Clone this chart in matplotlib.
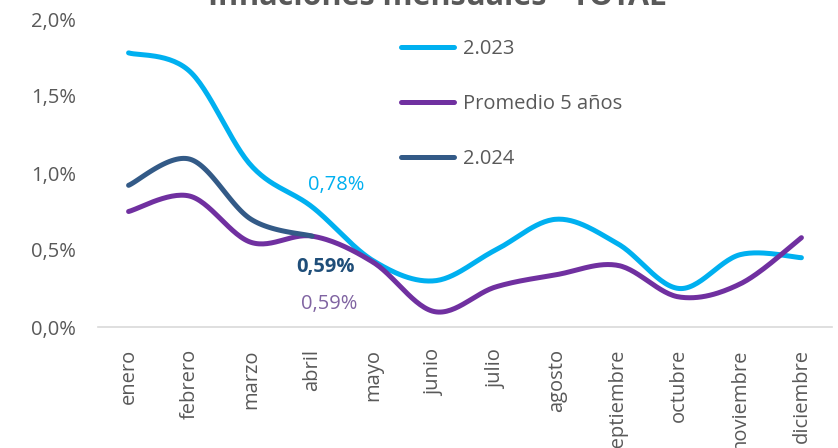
import numpy as np
import matplotlib
matplotlib.use("Agg")
import matplotlib.pyplot as plt

months = ["enero", "febrero", "marzo", "abril", "mayo", "junio", "julio",
          "agosto", "septiembre", "octubre", "noviembre", "diciembre"]
infl_2023 = [1.78, 1.66, 1.05, 0.78, 0.43, 0.30, 0.50, 0.70, 0.54, 0.25, 0.47, 0.45]
prom_5 = [0.75, 0.85, 0.55, 0.59, 0.42, 0.10, 0.26, 0.34, 0.40, 0.195, 0.28, 0.58]
infl_2024 = [0.92, 1.09, 0.70, 0.59]
yticks = [0.0, 0.5, 1.0, 1.5, 2.0]
ytick_labels = ["0,0%", "0,5%", "1,0%", "1,5%", "2,0%"]
series_labels = ["2.023", "Promedio 5 años", "2.024"]
title = "Inflaciones mensuales - TOTAL"

C23 = "#00B0F0"
CPR = "#7030A0"
C24 = "#335A87"
GRAY = "#595959"

plt.rcParams["font.family"] = ["Open Sans", "DejaVu Sans"]


def smooth(xs, ys, n=30):
    """Catmull-Rom style Bezier smoothing (as used by spreadsheet 'smoothed line')."""
    xs = np.asarray(xs, float)
    ys = np.asarray(ys, float)
    P = np.column_stack([xs, ys])
    m = len(P)
    out = []
    for i in range(m - 1):
        p0 = P[i - 1] if i > 0 else P[i]
        p1 = P[i]
        p2 = P[i + 1]
        p3 = P[i + 2] if i + 2 < m else P[i + 1]
        c1 = p1 + (p2 - p0) / 6.0
        c2 = p2 - (p3 - p1) / 6.0
        t = np.linspace(0, 1, n, endpoint=(i == m - 2))[:, None]
        seg = ((1 - t) ** 3) * p1 + 3 * ((1 - t) ** 2) * t * c1 + 3 * (1 - t) * t ** 2 * c2 + t ** 3 * p2
        out.append(seg)
    out = np.vstack(out)
    return out[:, 0], out[:, 1]


W, H = 838, 448
fig = plt.figure(figsize=(W / 100, H / 100), dpi=100)
ax = fig.add_axes([98 / W, 1 - 327 / H, (832 - 98) / W, (327 - 19) / H])

x = np.arange(len(months))
lw = 3.6
for vals, col, lab in [(infl_2023, C23, series_labels[0]),
                       (prom_5, CPR, series_labels[1]),
                       (infl_2024, C24, series_labels[2])]:
    sx, sy = smooth(np.arange(len(vals)), vals)
    ax.plot(sx, sy, color=col, lw=lw, solid_capstyle="round", label=lab)

ax.set_xlim(-0.5, len(months) - 0.5)
ax.set_ylim(0, 2.0)
ax.set_yticks(yticks)
ax.set_yticklabels(ytick_labels)
ax.set_xticks(x)
ax.set_xticklabels(months, rotation=90)
ax.tick_params(axis="both", length=0, labelsize=14.5, colors=GRAY)
ax.tick_params(axis="y", pad=16)
ax.tick_params(axis="x", pad=16)
for s in ["top", "right", "left"]:
    ax.spines[s].set_visible(False)
ax.spines["bottom"].set_color("#D9D9D9")
ax.spines["bottom"].set_linewidth(1.2)

# annotations
ax.annotate("0,78%", xy=(3, infl_2023[3]), xytext=(17, 15.5), textcoords="offset points",
            ha="center", va="center", color=C23, fontsize=14.5)
ax.annotate("0,59%", xy=(3, infl_2024[3]), xytext=(10, -22), textcoords="offset points",
            ha="center", va="center", color="#1F4E79", fontsize=14.5, fontweight="bold")
ax.annotate("0,59%", xy=(3, prom_5[3]), xytext=(12, -49), textcoords="offset points",
            ha="center", va="center", color="#8064A2", fontsize=14.5)

leg = ax.legend(loc="upper left", bbox_to_anchor=(401 / W, 1 - 39 / H),
                bbox_transform=fig.transFigure, frameon=False, fontsize=14.5,
                handlelength=2.65, handletextpad=0.45, labelspacing=1.73,
                borderaxespad=0, borderpad=0)
for t in leg.get_texts():
    t.set_color(GRAY)

fig.text(437 / W, 1 - 5 / H, title, ha="center", va="baseline",
         fontsize=22, fontweight="bold", color=GRAY)

fig.savefig("out.png", dpi=100)
